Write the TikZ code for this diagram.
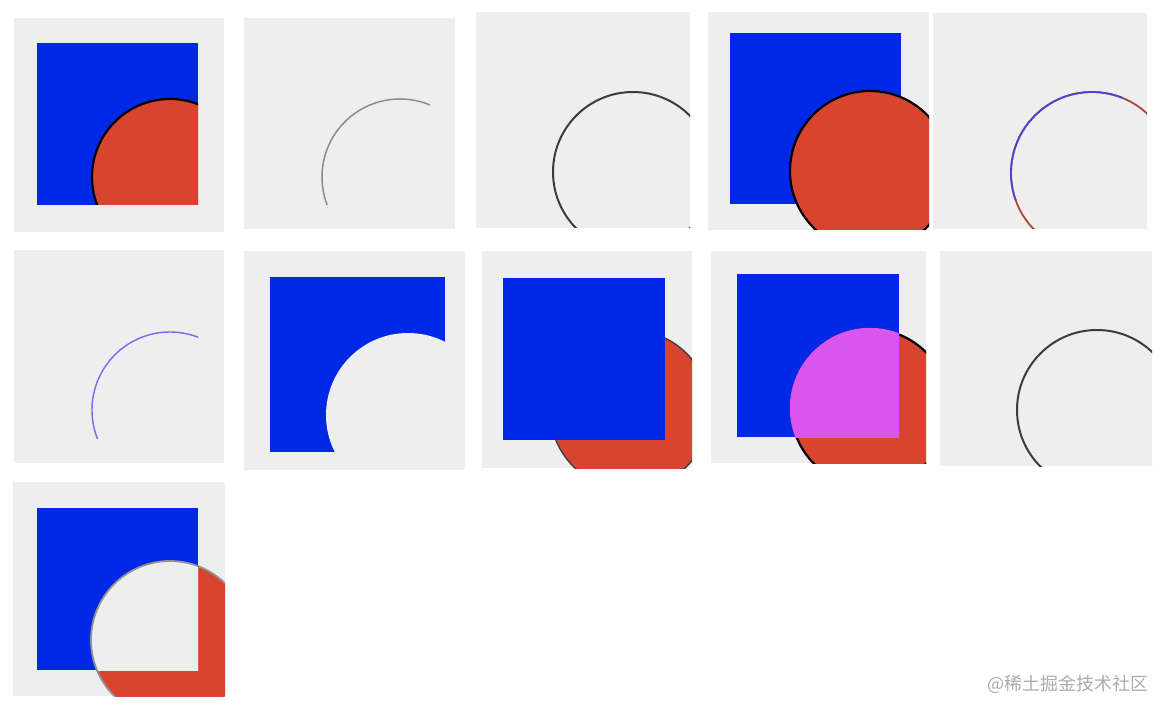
\documentclass[tikz,border=0pt]{standalone}
\usepackage{fontspec}
\newfontfamily\cjkfont{Noto Sans CJK SC}
\definecolor{panelbg}{RGB}{238,238,238}
\definecolor{sqblue}{RGB}{0,40,230}
\definecolor{circred}{RGB}{216,68,48}
\definecolor{mixmag}{RGB}{218,85,238}
\definecolor{lavender}{RGB}{110,110,232}
\definecolor{outlinegray}{RGB}{60,60,60}
\definecolor{arcblue}{RGB}{70,70,210}
\definecolor{arcred}{RGB}{170,70,60}
\begin{document}
\begin{tikzpicture}[x=1pt,y=-1pt,
  panel/.style={fill=panelbg},
  bluesq/.style={fill=sqblue},
  redcirc/.style={fill=circred},
  blackline/.style={draw=black,line width=2.2pt},
  grayline/.style={draw=outlinegray,line width=2pt},
  thinline/.style={draw=gray!90,line width=1.5pt}]
\useasboundingbox (0,0) rectangle (1168,714);
\fill[white] (0,0) rectangle (1168,714);

% ---- Panel 1 (row 1)
\fill[panel] (14,18) rectangle (224,232);
\fill[bluesq] (37,43) rectangle (198,205);
\begin{scope}
  \clip (37,43) rectangle (198,205);
  \fill[redcirc] (170,177) circle (78);
  \draw[blackline] (170,177) circle (78);
\end{scope}

% ---- Panel 2
\fill[panel] (244,18) rectangle (455,229);
\begin{scope}
  \clip (267,43) rectangle (430,205);
  \draw[thinline] (400,177) circle (78);
\end{scope}

% ---- Panel 3
\fill[panel] (476,12) rectangle (690,228);
\begin{scope}
  \clip (476,12) rectangle (690,228);
  \draw[grayline] (633,172) circle (80);
\end{scope}

% ---- Panel 4
\fill[panel] (708,12) rectangle (929,230);
\fill[bluesq] (730,33) rectangle (901,204);
\begin{scope}
  \clip (708,12) rectangle (929,230);
  \fill[redcirc] (870,171) circle (80);
  \draw[blackline] (870,171) circle (80);
\end{scope}

% ---- Panel 5
\fill[panel] (933,13) rectangle (1147,229);
\begin{scope}
  \clip (933,13) rectangle (1147,229);
  \draw[draw=arcred,line width=1.8pt] (1092,173) circle (81);
  \clip (956,38) rectangle (1122,200);
  \draw[draw=arcblue,line width=1.8pt] (1092,173) circle (81);
\end{scope}

% ---- Panel 6 (row 2)
\fill[panel] (14,250) rectangle (224,463);
\begin{scope}
  \clip (37,276) rectangle (198,438);
  \draw[draw=lavender,line width=1.4pt] (170,410) circle (78);
\end{scope}

% ---- Panel 7
\fill[panel] (244,251) rectangle (465,470);
\begin{scope}
  \clip (270,277) rectangle (445,452);
  \fill[bluesq] (270,277) rectangle (445,452);
  \fill[panelbg] (408,415) circle (82);
\end{scope}

% ---- Panel 8
\fill[panel] (482,251) rectangle (692,468);
\begin{scope}
  \clip (482,251) rectangle (692,468);
  \fill[redcirc] (630,410) circle (80);
  \draw[draw=black!75,line width=1.4pt] (630,410) circle (80);
\end{scope}
\fill[bluesq] (503,278) rectangle (665,440);

% ---- Panel 9
\fill[panel] (711,251) rectangle (926,463);
\fill[bluesq] (737,274) rectangle (899,437);
\begin{scope}
  \clip (711,251) rectangle (926,463);
  \fill[redcirc] (870,408) circle (79);
  \draw[blackline] (870,408) circle (79);
  \clip (737,274) rectangle (899,437);
  \fill[mixmag] (870,408) circle (80.2);
\end{scope}

% ---- Panel 10
\fill[panel] (940,251) rectangle (1152,466);
\begin{scope}
  \clip (940,251) rectangle (1152,466);
  \draw[grayline] (1097,410) circle (80);
\end{scope}

% ---- Panel 11 (row 3)
\fill[panel] (13,482) rectangle (225,696);
\fill[bluesq] (37,508) rectangle (198,670);
\begin{scope}
  \clip (13,482) rectangle (225,696);
  \fill[redcirc] (170,640) circle (79);
  \begin{scope}
    \clip (37,508) rectangle (198,670);
    \fill[panelbg] (170,640) circle (79);
  \end{scope}
  \draw[draw=gray!85,line width=1.8pt] (170,640) circle (79);
\end{scope}

% ---- Watermark
\node[anchor=east,text=gray!65,font=\cjkfont\fontsize{18}{21}\selectfont,inner sep=0pt] (wm) at (1149,684) {@稀土掘金技术社区};
\end{tikzpicture}
\end{document}
